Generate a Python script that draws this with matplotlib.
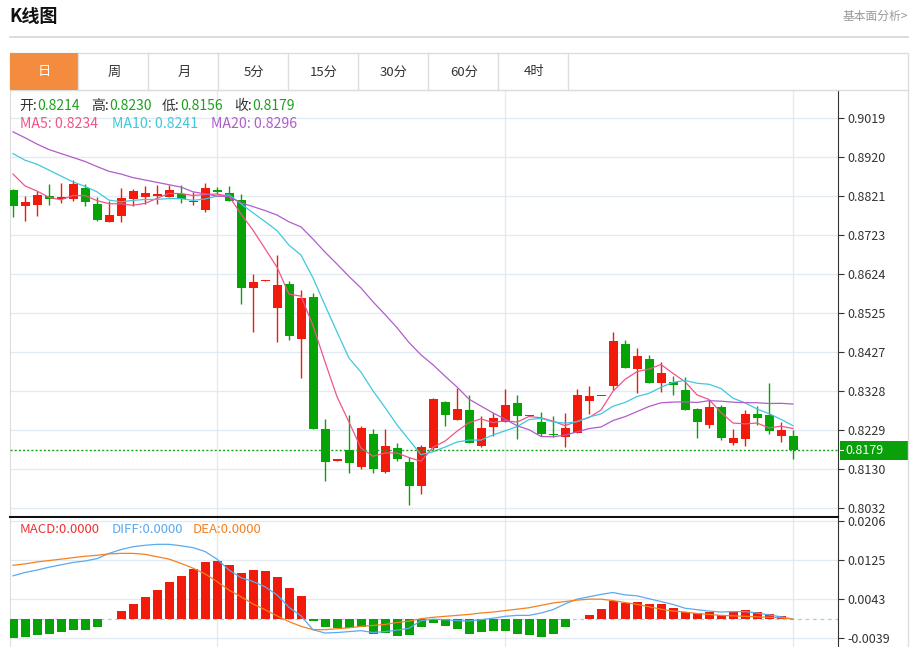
import numpy as np
import pandas as pd
import matplotlib
matplotlib.use("Agg")
import matplotlib.pyplot as plt
from matplotlib.patches import Rectangle

plt.rcParams['font.family'] = ['Noto Sans CJK SC', 'DejaVu Sans']

# ---------------- data ----------------
OPEN = [0.8836, 0.8797, 0.8798, 0.8821, 0.8813, 0.8813, 0.8841, 0.8802, 0.8756, 0.8770,
        0.8813, 0.8819, 0.8822, 0.8819, 0.8827, 0.8805, 0.8786, 0.8836, 0.8828, 0.8811,
        0.8589, 0.8606, 0.8538, 0.8598, 0.8459, 0.8566, 0.8231, 0.8151, 0.8178, 0.8134,
        0.8219, 0.8122, 0.8183, 0.8149, 0.8086, 0.8183, 0.8299, 0.8254, 0.8280, 0.8189,
        0.8236, 0.8250, 0.8297, 0.8264, 0.8250, 0.8219, 0.8211, 0.8222, 0.8301, 0.8314,
        0.8339, 0.8446, 0.8383, 0.8408, 0.8347, 0.8351, 0.8330, 0.8281, 0.8242, 0.8286,
        0.8195, 0.8206, 0.8269, 0.8267, 0.8214, 0.8214]
HIGH = [0.8839, 0.8821, 0.8835, 0.8851, 0.8855, 0.8863, 0.8851, 0.8818, 0.8808, 0.8842,
        0.8839, 0.8846, 0.8849, 0.8850, 0.8849, 0.8832, 0.8854, 0.8845, 0.8848, 0.8826,
        0.8624, 0.8609, 0.8672, 0.8606, 0.8583, 0.8576, 0.8256, 0.8156, 0.8268, 0.8239,
        0.8231, 0.8231, 0.8195, 0.8161, 0.8191, 0.8310, 0.8303, 0.8335, 0.8318, 0.8263,
        0.8273, 0.8333, 0.8318, 0.8266, 0.8274, 0.8263, 0.8272, 0.8333, 0.8341, 0.8315,
        0.8476, 0.8457, 0.8436, 0.8419, 0.8400, 0.8366, 0.8362, 0.8284, 0.8304, 0.8292,
        0.8231, 0.8279, 0.8290, 0.8347, 0.8249, 0.8230]
LOW = [0.8767, 0.8758, 0.8771, 0.8798, 0.8803, 0.8809, 0.8797, 0.8759, 0.8756, 0.8755,
       0.8797, 0.8800, 0.8800, 0.8819, 0.8804, 0.8799, 0.8780, 0.8826, 0.8809, 0.8547,
       0.8476, 0.8605, 0.8451, 0.8456, 0.8360, 0.8231, 0.8099, 0.8151, 0.8119, 0.8130,
       0.8120, 0.8119, 0.8151, 0.8039, 0.8066, 0.8178, 0.8240, 0.8253, 0.8195, 0.8187,
       0.8214, 0.8249, 0.8206, 0.8264, 0.8214, 0.8211, 0.8185, 0.8221, 0.8270, 0.8314,
       0.8330, 0.8385, 0.8323, 0.8347, 0.8326, 0.8318, 0.8280, 0.8209, 0.8233, 0.8203,
       0.8191, 0.8189, 0.8242, 0.8218, 0.8199, 0.8156]
CLOSE = [0.8796, 0.8807, 0.8825, 0.8813, 0.8818, 0.8851, 0.8806, 0.8761, 0.8774, 0.8816,
         0.8833, 0.8829, 0.8826, 0.8836, 0.8814, 0.8809, 0.8841, 0.8832, 0.8809, 0.8588,
         0.8604, 0.8608, 0.8597, 0.8467, 0.8563, 0.8232, 0.8148, 0.8156, 0.8145, 0.8234,
         0.8129, 0.8189, 0.8156, 0.8087, 0.8187, 0.8307, 0.8266, 0.8282, 0.8195, 0.8235,
         0.8259, 0.8292, 0.8263, 0.8266, 0.8219, 0.8216, 0.8235, 0.8317, 0.8314, 0.8315,
         0.8454, 0.8385, 0.8415, 0.8347, 0.8372, 0.8342, 0.8280, 0.8248, 0.8288, 0.8208,
         0.8208, 0.8270, 0.8258, 0.8227, 0.8229, 0.8179]

# moving averages: first points (window reaches before the visible range)
MA5_HEAD = [0.8877, 0.8847, 0.8834, 0.8818]
MA10_HEAD = [0.8929, 0.8912, 0.8902, 0.8887, 0.8872, 0.8857, 0.8846, 0.8832, 0.8811]
MA20_HEAD = [0.8984, 0.8969, 0.8953, 0.8939, 0.8929, 0.8919, 0.8909, 0.8896, 0.8884, 0.8877,
             0.8868, 0.8862, 0.8856, 0.8850, 0.8844, 0.8832, 0.8827, 0.8821, 0.8820]

MACD_HIST = [-0.0040, -0.0038, -0.0033, -0.0031, -0.0026, -0.0022, -0.0022, -0.0016, 0.0000, 0.0017,
             0.0032, 0.0046, 0.0061, 0.0077, 0.0091, 0.0105, 0.0119, 0.0121, 0.0114, 0.0096,
             0.0103, 0.0101, 0.0089, 0.0066, 0.0048, -0.0003, -0.0017, -0.0019, -0.0019, -0.0017,
             -0.0032, -0.0029, -0.0035, -0.0034, -0.0017, -0.0007, -0.0015, -0.0021, -0.0030, -0.0026,
             -0.0024, -0.0024, -0.0030, -0.0034, -0.0037, -0.0030, -0.0017, 0.0000, 0.0008, 0.0021,
             0.0039, 0.0035, 0.0036, 0.0031, 0.0031, 0.0023, 0.0016, 0.0014, 0.0016, 0.0009,
             0.0015, 0.0020, 0.0015, 0.0010, 0.0006, 0.0000]
DIFF = [0.0091, 0.0098, 0.0103, 0.0109, 0.0114, 0.0119, 0.0122, 0.0127, 0.0138, 0.0146,
        0.0152, 0.0155, 0.0157, 0.0157, 0.0154, 0.0150, 0.0142, 0.0126, 0.0103, 0.0087,
        0.0079, 0.0068, 0.0051, 0.0025, 0.0007, -0.0022, -0.0029, -0.0028, -0.0026, -0.0024,
        -0.0028, -0.0026, -0.0023, -0.0019, -0.0003, 0.0000, -0.0001, -0.0003, -0.0004, -0.0001,
        0.0002, 0.0006, 0.0008, 0.0008, 0.0013, 0.0020, 0.0032, 0.0042, 0.0047, 0.0052,
        0.0056, 0.0051, 0.0049, 0.0043, 0.0037, 0.0031, 0.0023, 0.0020, 0.0017, 0.0015,
        0.0016, 0.0016, 0.0013, 0.0009, 0.0005, 0.0000]
DEA = [0.0113, 0.0116, 0.0120, 0.0123, 0.0126, 0.0129, 0.0132, 0.0134, 0.0137, 0.0138,
       0.0138, 0.0136, 0.0131, 0.0126, 0.0117, 0.0107, 0.0095, 0.0079, 0.0061, 0.0047,
       0.0032, 0.0020, 0.0007, -0.0005, -0.0015, -0.0022, -0.0022, -0.0020, -0.0018, -0.0015,
       -0.0013, -0.0011, -0.0007, -0.0004, 0.0001, 0.0004, 0.0006, 0.0008, 0.0010, 0.0013,
       0.0015, 0.0018, 0.0021, 0.0024, 0.0029, 0.0034, 0.0037, 0.0040, 0.0042, 0.0042,
       0.0039, 0.0035, 0.0031, 0.0026, 0.0021, 0.0017, 0.0015, 0.0012, 0.0010, 0.0008,
       0.0007, 0.0006, 0.0005, 0.0004, 0.0003, 0.0000]

PRICE_TICKS = [0.9019, 0.8920, 0.8821, 0.8723, 0.8624, 0.8525, 0.8427, 0.8328, 0.8229, 0.8130, 0.8032]
MACD_TICKS = [0.0206, 0.0125, 0.0043, -0.0039]
GRID_IDX = [17, 41, 65]   # vertical grid lines (period boundaries)
TABS = ["日", "周", "月", "5分", "15分", "30分", "60分", "4时"]
LAST = {"开": "0.8214", "高": "0.8230", "低": "0.8156", "收": "0.8179"}
MA_TEXT = ["MA5: 0.8234", "MA10: 0.8241", "MA20: 0.8296"]
MACD_TEXT = ["MACD:0.0000", "DIFF:0.0000", "DEA:0.0000"]
CUR_PRICE = 0.8179

RED = "#f21a0a"
GREEN = "#06a306"
C_MA5, C_MA10, C_MA20 = "#f0558a", "#3fc8de", "#b25ccb"
C_DIFF, C_DEA = "#5aaaf0", "#f5801f"
GRID = "#e2ebf1"

# ---------------- layout ----------------
W, H = 913, 647
fig = plt.figure(figsize=(W / 100, H / 100), dpi=100)


def px_axes(x0, y0, x1, y1):
    return fig.add_axes([x0 / W, 1 - y1 / H, (x1 - x0) / W, (y1 - y0) / H])


n = len(CLOSE)
idx = np.arange(n)
o = np.array(OPEN); c = np.array(CLOSE); hi = np.array(HIGH); lo = np.array(LOW)
up = c >= o
cols = np.where(up, RED, GREEN)

closes = pd.Series(CLOSE)
ma5 = closes.rolling(5).mean().to_numpy(); ma5[:len(MA5_HEAD)] = MA5_HEAD
ma10 = closes.rolling(10).mean().to_numpy(); ma10[:len(MA10_HEAD)] = MA10_HEAD
ma20 = closes.rolling(20).mean().to_numpy(); ma20[:len(MA20_HEAD)] = MA20_HEAD

XLIM = (-0.25, 68.75)

# main candle panel
ax = px_axes(10, 90, 838, 517)
ax.set_xlim(*XLIM)
ax.set_ylim(0.800845, 0.908992)
ax.vlines(idx, lo, hi, colors=cols, linewidth=1.0, zorder=3)
body_lo = np.minimum(o, c)
body_h = np.maximum(np.abs(c - o), 0.00035)
ax.bar(idx, body_h, bottom=body_lo, width=0.75, color=cols, linewidth=0, zorder=4)
ax.plot(idx, ma5, color=C_MA5, lw=0.9, zorder=5)
ax.plot(idx, ma10, color=C_MA10, lw=0.9, zorder=5)
ax.plot(idx, ma20, color=C_MA20, lw=0.9, zorder=5)
ax.axhline(CUR_PRICE, color="#1aa31a", lw=1, ls=(0, (1.5, 1.5)), zorder=6)

ax.yaxis.tick_right()
ax.set_yticks(PRICE_TICKS)
ax.set_yticklabels([f"{v:.4f}" for v in PRICE_TICKS])
ax.set_xticks(GRID_IDX)
ax.set_xticklabels([])
ax.tick_params(axis="x", length=0)
ax.tick_params(axis="y", direction="out", length=4, width=0.8, color="#333333",
               labelsize=9, labelcolor="#333333", pad=3)
ax.grid(True, color=GRID, lw=1, zorder=0)
ax.set_axisbelow(True)
for s in ("left", "top"):
    ax.spines[s].set_color("#dddddd")
ax.spines["right"].set_color("#333333")
ax.spines["bottom"].set_color("#111111")
ax.spines["bottom"].set_linewidth(1.5)

# MACD panel
axm = px_axes(10, 518, 838, 647)
axm.set_xlim(*XLIM)
axm.set_ylim(-0.00583, 0.02122)
hist = np.array(MACD_HIST)
axm.axhline(0, color="#9fd4e8", lw=0.9, ls=(0, (3, 3)), zorder=1)
axm.bar(idx, hist, width=0.75, color=np.where(hist >= 0, RED, GREEN), linewidth=0, zorder=3)
axm.plot(idx, DIFF, color=C_DIFF, lw=0.9, zorder=4)
axm.plot(idx, DEA, color=C_DEA, lw=0.9, zorder=4)
axm.yaxis.tick_right()
axm.set_yticks(MACD_TICKS)
axm.set_yticklabels([f"{v:.4f}" for v in MACD_TICKS])
axm.set_xticks(GRID_IDX)
axm.set_xticklabels([])
axm.tick_params(axis="x", length=0)
axm.tick_params(axis="y", direction="out", length=4, width=0.8, color="#333333",
                labelsize=9, labelcolor="#333333", pad=3)
axm.grid(True, color=GRID, lw=1, zorder=0)
axm.set_axisbelow(True)
axm.spines["left"].set_color("#dddddd")
axm.spines["right"].set_color("#333333")
axm.spines["top"].set_visible(False)
axm.spines["bottom"].set_visible(False)

# overlay in pixel coordinates for header, tabs and labels
ov = fig.add_axes([0, 0, 1, 1], zorder=10)
ov.set_xlim(0, W)
ov.set_ylim(H, 0)
ov.axis("off")
ov.patch.set_alpha(0)

ov.text(9, 17, "K线图", fontsize=13, fontweight="bold", color="#111111", va="center", ha="left")
ov.text(908, 16, "基本面分析>", fontsize=8.5, color="#999999", va="center", ha="right")
ov.plot([10, 908], [37, 37], color="#d6d6d6", lw=1.2)

ov.add_patch(Rectangle((10, 53), 898, 37, fill=False, edgecolor="#dddddd", lw=1))
ov.add_patch(Rectangle((10, 53), 68, 37, facecolor="#f48c40", edgecolor="none"))
for k, lab in enumerate(TABS):
    x0 = 10 + 70 * k
    ov.plot([x0 + 68, x0 + 68], [53, 90], color="#dddddd", lw=1)
    ov.text(x0 + 34, 72, lab, fontsize=9.5, ha="center", va="center",
            color="white" if k == 0 else "#333333")
ov.plot([908, 908], [90, 647], color="#dddddd", lw=1)

# last-bar readout
lab_x = [19, 91, 162, 234]
for (k, v), x in zip(LAST.items(), lab_x):
    ov.text(x, 106, k + ":", fontsize=10, color="#333333", va="center", ha="left")
    ov.text(x + 18, 106, v, fontsize=10, color="#1f9f1f", va="center", ha="left")
for t, x, col in zip(MA_TEXT, [20, 112, 211], [C_MA5, C_MA10, C_MA20]):
    ov.text(x, 124, t, fontsize=10.2, color=col, va="center", ha="left")
for t, x, col in zip(MACD_TEXT, [20, 112, 193], ["#ee3333", C_DIFF, C_DEA]):
    ov.text(x, 529.5, t, fontsize=9.5, color=col, va="center", ha="left")

# current price tag
ov.add_patch(Rectangle((840, 441), 68, 18.5, facecolor="#0aa00a", edgecolor="none"))
ov.plot([840, 843], [450.3, 450.3], color="white", lw=0.8)
ov.text(845, 450.5, f"{CUR_PRICE:.4f}", fontsize=9, color="white", va="center", ha="left")

fig.savefig("out.png", dpi=100)
